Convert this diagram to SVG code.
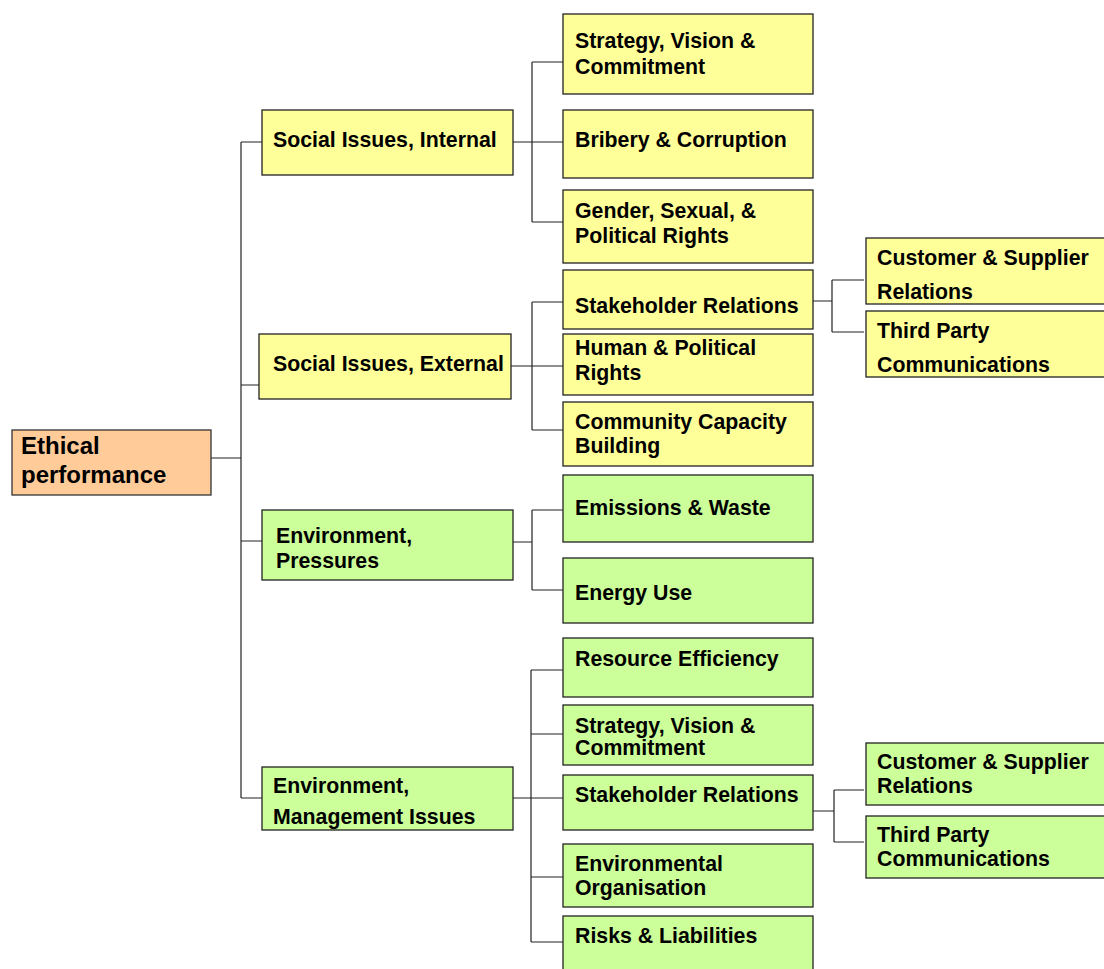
<svg xmlns="http://www.w3.org/2000/svg" width="1104" height="969" viewBox="0 0 1104 969">
<style>
.y{fill:#FFFF99;stroke:#222;stroke-width:1.3}
.g{fill:#CCFF99;stroke:#222;stroke-width:1.3}
.o{fill:#FFCC99;stroke:#333;stroke-width:1.3}
text{font-family:"Liberation Sans",Arial,sans-serif;font-weight:bold;font-size:21.3px;fill:#000}
.big{font-size:24px}
.c{fill:none;stroke:#222;stroke-width:1.2}
</style>
<rect width="1104" height="969" fill="#fff"/>
<g id="connectors">
<path class="c" d="M211,458H241M241,142V798M241,142H262M241,385H262M241,541H262M241,798H262"/>
<path class="c" d="M513,142H532M532,62V222M532,62H563M532,142H563M532,222H563"/>
<path class="c" d="M511,366H532M532,302V430M532,302H563M532,366H563M532,430H563"/>
<path class="c" d="M513,542H532M532,510V590M532,510H563M532,590H563"/>
<path class="c" d="M513,798H531M531,670V942M531,670H563M531,734H563M531,798H563M531,877H563M531,942H563"/>
<path class="c" d="M813,301H832M832,280V332M832,280H864M832,332H864"/>
<path class="c" d="M813,811H834M834,790V842M834,790H864M834,842H864"/>
</g>
<g id="ethical"><rect class="o" x="12" y="430" width="199" height="65"/><text class="big" x="21" y="454">Ethical</text><text class="big" x="21" y="483">performance</text></g>
<g id="social-internal"><rect class="y" x="262" y="110" width="251" height="65"/><text x="273" y="147">Social Issues, Internal</text></g>
<g id="social-external"><rect class="y" x="259" y="334" width="252" height="65"/><text x="273" y="371">Social Issues, External</text></g>
<g id="env-pressures"><rect class="g" x="262" y="510" width="251" height="70"/><text x="276" y="543">Environment,</text><text x="276" y="568">Pressures</text></g>
<g id="env-management"><rect class="g" x="262" y="767" width="251" height="63"/><text x="273" y="793">Environment,</text><text x="273" y="824">Management Issues</text></g>
<g id="si-strategy"><rect class="y" x="563" y="14" width="250" height="80"/><text x="575" y="48">Strategy, Vision &amp;</text><text x="575" y="74">Commitment</text></g>
<g id="si-bribery"><rect class="y" x="563" y="110" width="250" height="68"/><text x="575" y="147">Bribery &amp; Corruption</text></g>
<g id="si-gender"><rect class="y" x="563" y="190" width="250" height="73"/><text x="575" y="218">Gender, Sexual, &amp;</text><text x="575" y="243">Political Rights</text></g>
<g id="se-stakeholder"><rect class="y" x="563" y="270" width="250" height="59"/><text x="575" y="313">Stakeholder Relations</text></g>
<g id="se-human"><rect class="y" x="563" y="334" width="250" height="61"/><text x="575" y="355">Human &amp; Political</text><text x="575" y="380">Rights</text></g>
<g id="se-community"><rect class="y" x="563" y="402" width="250" height="64"/><text x="575" y="429">Community Capacity</text><text x="575" y="453">Building</text></g>
<g id="se-customer"><rect class="y" x="866" y="238" width="250" height="66"/><text x="877" y="265">Customer &amp; Supplier</text><text x="877" y="299">Relations</text></g>
<g id="se-third"><rect class="y" x="866" y="311" width="250" height="66"/><text x="877" y="338">Third Party</text><text x="877" y="372">Communications</text></g>
<g id="ep-emissions"><rect class="g" x="563" y="475" width="250" height="67"/><text x="575" y="515">Emissions &amp; Waste</text></g>
<g id="ep-energy"><rect class="g" x="563" y="558" width="250" height="65"/><text x="575" y="600">Energy Use</text></g>
<g id="em-resource"><rect class="g" x="563" y="638" width="250" height="59"/><text x="575" y="666">Resource Efficiency</text></g>
<g id="em-strategy"><rect class="g" x="563" y="705" width="250" height="60"/><text x="575" y="733">Strategy, Vision &amp;</text><text x="575" y="755">Commitment</text></g>
<g id="em-stakeholder"><rect class="g" x="563" y="775" width="250" height="55"/><text x="575" y="802">Stakeholder Relations</text></g>
<g id="em-organisation"><rect class="g" x="563" y="844" width="250" height="63"/><text x="575" y="871">Environmental</text><text x="575" y="895">Organisation</text></g>
<g id="em-risks"><rect class="g" x="563" y="916" width="250" height="60"/><text x="575" y="943">Risks &amp; Liabilities</text></g>
<g id="em-customer"><rect class="g" x="866" y="743" width="250" height="62"/><text x="877" y="769">Customer &amp; Supplier</text><text x="877" y="793">Relations</text></g>
<g id="em-third"><rect class="g" x="866" y="816" width="250" height="62"/><text x="877" y="842">Third Party</text><text x="877" y="866">Communications</text></g>
</svg>
